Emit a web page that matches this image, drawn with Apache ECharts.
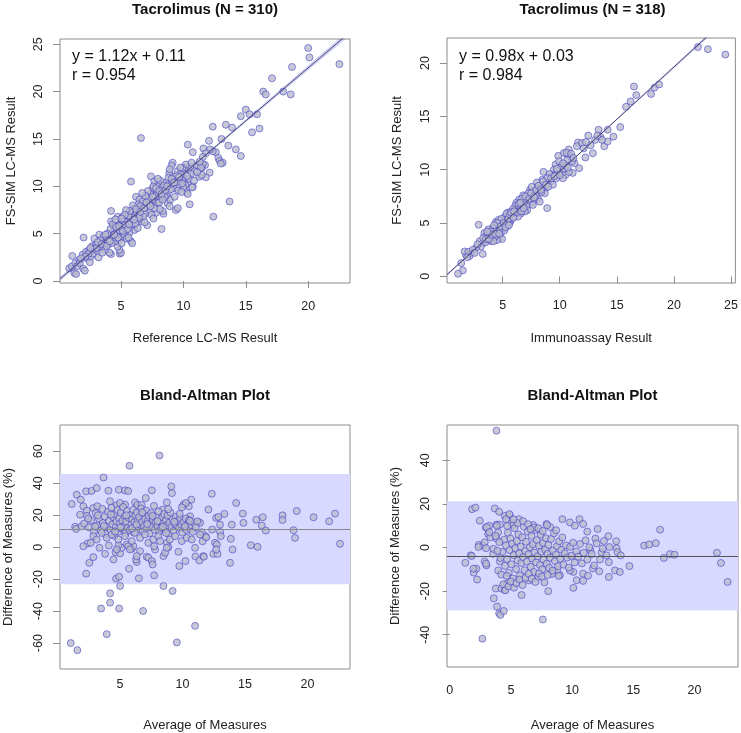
<!DOCTYPE html>
<html><head><meta charset="utf-8">
<script src="https://cdn.jsdelivr.net/npm/echarts@6/dist/echarts.min.js"></script>
<style>html,body{margin:0;padding:0;background:#fff}#c{width:741px;height:733px}</style>
</head><body><div id="c"></div>
<script>
// ---------- DATA ----------
const panelTitles = ['Tacrolimus (N = 310)', 'Tacrolimus (N = 318)', 'Bland-Altman Plot', 'Bland-Altman Plot'];
const xNames = ['Reference LC-MS Result', 'Immunoassay Result', 'Average of Measures', 'Average of Measures'];
const yNames = ['FS-SIM LC-MS Result', 'FS-SIM LC-MS Result', 'Difference of Measures (%)', 'Difference of Measures (%)'];
const xTickValues = [[5, 10, 15, 20], [5, 10, 15, 20, 25], [5, 10, 15, 20], [0, 5, 10, 15, 20]];
const yTickValues = [[0, 5, 10, 15, 20, 25], [0, 5, 10, 15, 20], [-60, -40, -20, 0, 20, 40, 60], [-40, -20, 0, 20, 40]];
const fitSlopes = [1.12, 0.98];
const fitIntercepts = [0.11, 0.03];
const fitR = [0.954, 0.984];
const ciKnotX = [0, 4, 7.5, 12, 18, 26];
const ciHalfLcms = [0.24, 0.11, 0.08, 0.12, 0.22, 0.38];
const ciHalfImmuno = [0.12, 0.05, 0.04, 0.06, 0.11, 0.18];
const baMeanDiff = [11.3, -3.9];
const baUpperLimit = [45.7, 21.2];
const baLowerLimit = [-23.2, -28.9];

// Panel 1: Reference LC-MS (x) vs FS-SIM LC-MS (y)
const lcmsPoints = [
[20.0,24.6],[20.1,23.6],[22.5,22.9],[18.7,22.6],[17.1,21.4],[16.4,20.0],[16.6,19.7],[18.0,20.0],[18.6,19.7],[15.0,18.1],[14.6,17.4],[15.3,17.6],[15.9,17.6],[15.5,15.7],[16.1,16.1],[12.35,16.3],[13.4,16.5],[13.9,16.2],[13.05,15.0],[12.05,14.8],[13.6,14.3],[14.2,13.9],[14.6,13.2],[12.6,13.6],[12.8,13.0],[12.9,12.7],[13.15,12.5],[13.0,12.4],[12.35,13.7],[12.13,13.9],[12.1,11.45],[13.7,8.4],[12.4,6.8],
[10.35,14.4],[10.75,13.6],[11.6,14.0],[11.8,13.5],[11.55,13.1],[11.73,12.25],[11.47,11.9],[11.8,10.95],[11.27,11.0],[11.47,11.2],[11.2,12.1],[11.55,12.35],[10.75,9.95],[10.3,10.3],[10.25,9.4],[10.35,9.2],[10.5,8.1],[10.7,9.9],[11.05,12.2],[11.4,12.0],[10.9,11.6],[10.4,11.8],[10.6,11.3],[10.2,12.0],[10.1,11.3],[10.45,10.8],[10.0,10.7],[10.15,10.1],[10.55,12.1],[10.85,10.6],[11.1,11.5],
[9.14,12.5],[8.87,11.4],[9.54,11.6],[9.94,10.9],[10.2,12.3],[9.4,7.5],[9.55,7.7],[8.74,8.2],[8.74,9.3],[8.87,10.35],[9.27,9.8],[9.0,9.7],[9.2,11.0],[9.35,10.6],[9.6,9.6],[9.7,10.9],[9.8,11.3],[10.0,9.9],[8.6,10.4],[8.8,10.9],[8.95,8.6],[9.05,12.2],[9.45,11.1],[9.65,10.2],[9.85,9.4],[9.9,11.9],[9.1,10.3],[8.6,9.0],[9.3,8.9],[9.75,12.0],[8.9,11.8],[9.55,10.5],
[7.4,11.05],[7.67,10.5],[8.07,10.2],[8.34,9.65],[8.25,5.5],[8.4,7.1],[8.34,7.4],[7.4,9.2],[7.5,8.0],[7.55,9.8],[7.7,8.6],[7.8,7.2],[7.85,9.4],[7.9,8.2],[8.0,9.0],[8.1,7.6],[8.2,8.7],[8.3,9.9],[8.5,8.9],[7.1,5.9],[7.2,8.7],[7.3,7.4],[7.0,7.8],[7.15,9.5],[7.6,10.0],[8.15,10.6],[8.45,10.1],[7.95,10.8],[7.25,8.1],[7.75,9.0],[8.05,8.3],[7.45,7.0],[8.35,8.6],[7.65,7.7],
[6.6,15.1],[5.8,10.5],[6.2,8.9],[6.47,8.6],[6.87,8.2],[6.6,6.3],[6.07,5.4],[6.07,7.7],[5.93,7.2],[5.67,6.8],[5.67,5.1],[5.8,4.2],[5.9,4.0],[5.75,5.8],[5.85,6.5],[6.0,6.0],[6.1,6.8],[6.25,7.3],[6.3,6.4],[6.4,8.1],[6.5,7.0],[6.65,7.6],[6.75,8.4],[6.9,7.1],[6.95,9.0],[6.35,5.6],[6.55,7.9],[6.8,6.8],[5.6,6.9],[5.5,6.2],[6.15,6.1],[5.95,8.0],[6.7,9.3],[6.45,6.7],[5.7,7.4],
[4.2,2.85],[4.9,2.9],[5.0,3.0],[4.87,3.3],[4.73,3.66],[4.2,6.3],[4.2,7.4],[4.3,5.1],[4.4,4.5],[4.47,5.8],[4.5,5.4],[4.6,4.2],[4.73,6.8],[4.8,5.0],[4.87,4.4],[4.95,6.0],[5.0,5.5],[5.1,6.4],[5.13,4.7],[5.13,6.8],[5.2,5.9],[5.3,4.9],[5.4,5.4],[5.4,7.5],[4.07,3.0],[4.07,4.7],[4.0,3.9],[4.15,5.5],[4.35,6.0],[4.55,6.5],[4.65,5.1],[4.9,5.4],[5.05,4.0],[5.25,6.3],[5.35,5.9],[5.45,4.5],[4.75,4.6],[5.15,5.3],[4.45,4.9],[5.3,7.0],[4.25,4.0],
[0.85,1.35],[1.1,2.65],[1.26,0.85],[1.4,0.75],[1.07,1.55],[1.34,1.9],[1.5,1.6],[1.66,2.25],[1.7,1.9],[1.93,2.8],[1.98,1.3],[2.0,4.6],[2.1,1.1],[2.2,3.1],[2.3,2.4],[2.46,3.3],[2.5,2.0],[2.6,2.6],[2.7,3.7],[2.75,2.9],[2.86,4.5],[3.0,3.8],[3.1,3.2],[3.2,2.5],[3.26,4.9],[3.4,3.6],[3.53,4.0],[3.6,4.7],[3.7,3.3],[3.8,4.4],[3.9,5.0],[2.4,2.9],[2.9,3.4],[3.35,4.3],[3.75,4.9],[2.15,2.6],[1.8,2.4],[3.05,3.5],[3.5,3.0],[3.65,4.0],[2.55,3.5],[3.95,4.3],
[3.15,4.1],[3.45,3.9],[3.85,3.7],[4.1,4.2],[4.6,5.7],[4.85,5.8],[5.05,6.6],[5.55,5.5],[5.65,6.0],[6.05,6.5],[6.2,7.6],[6.55,7.3],[6.85,7.7],[7.05,8.3],[7.35,7.9],[7.55,8.9],[7.8,9.8],[8.05,9.5],[8.25,9.2],[8.55,9.6],[8.7,10.0],[9.05,10.8],[9.25,10.4],[9.65,11.0],[9.9,10.3],[10.3,11.1],[10.65,12.5],[11.3,12.6],[5.6,4.6],[6.9,6.2],[7.6,6.6],[8.9,7.9]
];

// Panel 2: Immunoassay (x) vs FS-SIM LC-MS (y)
const immunoPoints = [
[22.1,21.5],[22.97,21.3],[24.5,20.8],[18.3,17.7],[18.7,18.0],[18.0,17.1],[16.5,17.8],[16.7,17.0],[16.2,16.4],[15.8,15.9],[15.3,14.0],[14.7,13.1],[14.2,13.75],[13.4,13.75],[13.9,12.2],[14.2,12.65],[13.55,13.1],[13.7,12.8],[12.5,13.2],[13.1,12.8],[12.9,11.55],[12.25,11.15],[11.6,12.55],[11.5,12.2],[11.95,12.5],[12.1,12.0],[11.7,10.15],[11.3,10.6],[12.7,12.3],[13.3,13.2],[12.3,12.6],
[10.8,11.9],[10.36,11.56],[10.74,11.4],[10.94,11.25],[11.09,10.8],[10.65,10.9],[11.14,9.7],[10.2,9.7],[10.5,9.5],[10.8,9.8],[10.28,9.2],[9.87,11.3],[9.64,10.5],[9.5,10.0],[9.3,9.5],[9.2,8.9],[10.6,11.6],[11.0,11.5],[10.1,10.3],[9.8,9.9],[10.4,10.1],[9.1,9.6],[9.95,10.8],[10.55,10.4],[11.2,11.1],[9.4,8.6],[9.7,9.2],
[8.9,6.4],[8.77,8.3],[8.57,9.8],[8.33,8.6],[8.48,9.06],[8.04,7.8],[7.6,7.56],[7.46,6.9],[7.03,7.2],[7.2,7.5],[6.74,6.56],[6.6,5.9],[6.45,7.2],[6.3,6.7],[6.16,6.3],[8.2,8.2],[8.0,8.8],[7.8,8.0],[7.7,7.1],[7.4,8.1],[7.3,7.0],[7.1,6.6],[6.9,7.0],[6.8,7.6],[6.5,6.4],[6.2,6.9],[6.05,5.8],[8.6,8.5],[8.9,9.2],[8.1,7.3],[7.55,8.4],[7.9,7.6],[7.15,6.2],[6.35,5.6],[6.95,6.1],[8.7,7.8],[8.4,7.9],[7.65,6.7],[6.7,7.3],[7.25,7.8],[8.25,7.0],[6.1,6.6],
[5.87,5.9],[5.58,5.6],[5.3,5.3],[5.14,4.84],[5.0,4.4],[4.85,4.06],[4.7,3.6],[4.57,4.7],[4.28,4.4],[4.13,3.75],[3.84,4.06],[3.7,3.4],[3.26,3.1],[3.4,4.06],[2.9,4.84],[3.26,2.1],[5.9,6.3],[5.7,5.2],[5.5,6.0],[5.4,4.7],[5.2,5.6],[5.05,5.2],[4.95,3.5],[4.8,4.9],[4.6,4.1],[4.5,3.4],[4.4,5.1],[4.3,3.7],[4.1,4.5],[4.0,3.3],[3.9,3.7],[3.6,3.8],[3.5,3.2],[3.1,2.8],[3.0,3.3],[4.65,5.3],[5.6,5.0],[4.9,5.4],[5.35,5.9],[4.45,4.3],[3.75,4.4],[5.8,5.6],[5.15,4.3],[4.75,4.4],[4.2,3.3],[5.45,5.1],
[2.68,2.66],[2.25,2.2],[2.1,1.9],[1.8,2.0],[1.67,2.34],[1.38,1.25],[1.52,0.56],[1.1,0.25],[2.0,2.3],[2.4,2.5],[2.8,3.0],[1.9,1.8],[2.55,2.2],
[3.3,3.6],[3.55,3.5],[3.8,3.5],[3.95,4.2],[4.05,3.9],[4.35,4.0],[4.55,5.0],[4.7,4.0],[4.85,4.7],[5.1,5.0],[5.25,4.6],[5.5,5.4],[5.65,5.8],[5.75,6.0],[5.95,5.5],[6.25,6.0],[6.4,6.8],[6.55,6.9],[6.65,6.1],[6.85,6.4],[7.0,7.5],[7.35,7.3],[7.5,7.8],[7.75,7.4],[7.95,8.1],[8.15,8.5],[8.35,8.1],[8.55,8.9],[8.8,8.6],[9.0,8.4],[9.25,9.2],[9.55,9.4],[9.75,10.1],[10.0,9.5],[10.3,10.6],[10.7,10.2],[4.25,4.8],[3.65,4.2],[5.55,4.8],[6.0,6.1]
];

// Panel 3: Bland-Altman, reference LC-MS comparison (average, % difference)
const baLcmsPoints = [
[1.05,-60],[1.58,-64.4],[3.93,-54.4],[3.48,-38.4],[4.2,-34.7],[4.2,-28.9],[4.92,-38.4],[5.0,-24.3],[4.68,-19.7],[4.92,-18.5],[6.5,-19.5],[6.84,-39.9],[7.72,-17.6],[8.47,-24.3],[9.2,-27.4],[9.54,-59.6],[11.0,-49.2],[5.72,-13.5],[2.28,-16.6],[2.54,-9.8],[2.86,-6.2],
[2.4,2.3],[2.65,2.7],[2.06,0.6],[3.35,-0.4],[3.8,-4.2],[4.47,-7.7],[4.63,-3.1],[5.0,-3.9],[5.13,-0.4],[4.87,1.2],[4.1,1.0],[5.53,1.7],[5.93,-1.0],[6.07,0.6],[6.33,-9.3],[6.28,-7.7],[6.6,-2.5],[7.13,-6.0],[7.27,-6.6],[7.54,-8.7],[7.6,-10.8],[7.8,-1.5],[7.72,0.6],[8.47,-5.6],[8.6,-3.5],[8.74,2.7],[8.87,0],[9.67,-2.9],[9.74,-11.8],[10.23,-8.7],[11.03,-5.8],[11.35,-8.3],[11.67,-5.6],[11.6,3.7],[11.83,6.9],[11.54,9.3],[11.27,15.6],[4.73,-1.4],[5.66,0.6],[5.79,-1.4],[6.33,-5.6],[8.73,-0.4],[11.0,-0.4],
[10.6,19.3],[10.7,29.7],[10.5,25.5],[10.07,26.6],[10.26,27.6],[9.94,24.9],[9.1,38.0],[9.15,33.8],[8.74,28.0],[8.4,23.5],[8.15,57.3],[5.75,50.9],[3.67,43.6],[4.07,35.3],[2.28,34.9],[2.72,35.2],[3.13,37.0],[4.9,35.9],[5.4,35.5],[5.64,35.1],[1.53,32.8],[1.85,29.7],[1.13,27.0],[1.4,12.7],[1.48,11.4],[1.8,20.3],[2.06,25.5],[1.93,13.1],[2.33,22.8],[5.4,26.6],[6.2,28.0],[7.05,30.7],[7.54,35.5],[4.19,28.7],[4.73,26.2],[4.99,27.6],[6.38,26.4],[6.73,26.4],[2.86,24.5],[3.18,25.6],
[12.34,33.4],[12.07,23.5],[12.37,11.0],[12.69,18.3],[12.87,18.9],[13.0,14.1],[13.0,9.5],[13.06,6.9],[12.6,2.7],[12.74,1.7],[12.47,-4.2],[12.8,-4.2],[12.69,-1.5],[13.35,20.8],[14.29,27.6],[13.94,14.1],[13.86,5.2],[14.0,-1.5],[13.8,-9.8],[14.82,21.0],[14.87,15.2],[15.46,1.2],[16.0,0.2],[15.9,17.2],[16.42,18.7],[16.34,13.5],[16.66,10.4],[18.0,19.9],[18.0,17.0],[18.88,10.6],[19.0,5.8],[19.14,22.6],[20.48,18.7],[21.73,16.2],[22.2,21.0],[22.6,2.1],[11.4,15.2],[11.9,6.2],[11.7,-6.0],
[2.12,14.8],[2.35,19.6],[2.52,12.3],[2.68,16.9],[2.91,9.7],[3.05,21.3],[3.18,13.6],[3.31,17.8],[3.44,10.4],[3.58,23.9],[3.62,15.1],[3.77,19.2],[3.85,8.3],[3.96,12.7],[4.04,22.1],[4.12,16.4],[4.23,10.9],[4.31,24.6],[4.38,14.2],[4.44,18.7],[4.52,7.1],[4.58,20.8],[4.66,12.9],[4.71,16.0],[4.79,23.2],[4.84,9.6],[4.93,18.1],[4.98,14.7],[5.06,21.5],[5.11,11.8],[5.19,16.6],[5.24,25.1],[5.31,13.3],[5.36,19.4],[5.45,8.9],[5.49,15.9],[5.57,22.6],[5.63,12.1],[5.69,18.4],[5.78,10.6],[5.84,20.2],[5.9,14.4],[5.97,17.3],[6.04,23.4],[6.09,9.2],[6.15,15.5],[6.22,19.9],[6.27,12.6],[6.35,21.8],[6.41,16.8],[6.48,11.1],[6.53,18.9],[6.62,13.9],[6.68,24.2],[6.74,15.7],[6.81,10.2],[6.88,20.6],[6.93,13.1],[7.0,17.6],[7.08,22.9],[7.14,11.6],[7.21,16.3],[7.29,19.7],[7.35,8.6],[7.42,14.6],[7.49,21.2],[7.56,12.4],[7.63,17.1],[7.71,25.8],[7.77,10.8],[7.84,15.3],[7.92,19.1],[7.99,13.2],[8.07,22.3],[8.13,9.9],[8.21,16.1],[8.28,12.0],[8.36,18.6],[8.43,14.9],[8.52,20.7],[8.58,11.3],[8.66,16.7],[8.73,13.7],[8.81,19.8],[8.89,8.1],[8.96,15.4],[9.04,21.6],[9.12,12.8],[9.21,17.4],[9.29,10.1],[9.38,14.3],[9.46,19.0],[9.55,13.5],[9.63,16.5],[9.72,11.9],[9.81,18.2],[9.9,14.0],[9.98,9.1],[10.07,15.8],[10.16,12.2],[10.25,17.9],[10.34,10.7],[10.43,14.5],[10.52,16.9],[10.61,11.4],[10.7,13.8],[10.82,9.6],[10.93,15.1],[11.05,12.5],[11.18,16.2],
[2.86,6.9],[3.13,4.8],[3.93,5.8],[4.33,7.9],[4.86,4.8],[5.39,6.9],[5.93,3.8],[6.6,5.8],[6.99,7.9],[7.26,2.7],[7.66,4.8],[8.06,6.9],[8.2,3.8],[8.99,4.8],[9.4,6.9],[9.93,3.8],[10.33,5.8],[10.73,4.8],[11.4,7.9],[3.53,8.9],[6.19,8.9],[8.68,8.9],
[3.22,19.9],[3.7,13.2],[4.27,20.4],[4.6,9.8],[5.02,12.3],[5.5,19.9],[5.95,11.7],[6.3,14.1],[6.77,21.7],[7.17,14.4],[7.6,19.5],[8.0,16.3],[8.42,12.6],[8.85,23.8],[9.33,15.9],[9.77,20.8],[10.2,13.1],[10.6,16.4],[3.0,12.9],[2.45,17.8]
];

// Panel 4: Bland-Altman, immunoassay comparison (average, % difference)
const baImmunoPoints = [
[3.82,53.6],[2.67,-41.8],[7.61,-33.0],[1.28,-7.0],[1.72,-3.6],[1.83,17.6],[2.1,18.3],[2.46,12.3],[1.96,-11.5],[2.18,-9.7],[2.24,-14.7],[2.37,1.2],[2.73,0.9],[2.86,-6.4],[3.0,-8.2],[2.86,2.4],[2.95,9.2],[3.22,10.0],[3.14,6.2],[3.55,-2.9],[3.33,4.7],[3.68,17.9],[4.04,16.4],[3.82,10.5],[4.1,10.5],[3.96,7.0],[3.82,4.2],[4.1,-6.4],[3.96,-10.5],[3.77,-18.8],[3.6,-23.3],[3.87,-27.1],[4.04,-30.2],[4.15,-30.9],[4.42,-29.1],[4.23,-18.8],[4.5,-19.5],[4.69,-16.5],[4.5,14.5],[4.9,14.8],[5.05,11.2],[5.18,10.3],[5.65,13.0],[5.87,-21.8],[8.05,-20.0],[7.91,10.8],[6.82,10.3],[9.2,13.0],[9.82,11.5],[10.23,10.0],[10.6,13.0],[10.9,10.8],[11.24,7.3],[12.09,8.5],[10.1,-18.5],[10.37,-15.0],[10.9,-15.3],[10.9,-12.0],[10.1,-11.2],[9.82,-10.5],[9.0,-12.7],[8.8,-10.2],[12.22,-10.9],[12.28,-5.5],[12.96,5.2],[13.04,0.2],[13.0,-6.7],[13.0,-13.5],[13.5,-10.5],[13.6,2.9],[13.9,-11.2],[13.64,-0.3],[13.7,-2.1],[13.97,-3.6],[14.68,-8.5],[15.88,0.9],[16.3,1.4],[16.84,2.0],[17.19,8.2],[17.5,-4.8],[18.0,-3.0],[18.36,-3.3],[21.83,-2.4],[22.16,-7.1],[22.7,-15.8],
[2.35,0.2],[2.97,-0.3],[3.57,-0.6],[1.8,-3.9],[1.94,-9.7],[2.97,-7.4],[3.03,9.3],[3.25,7.0],[3.85,10.0],[4.88,15.3],[4.61,13.0],[11.5,-1.2],[11.9,4.1],[12.4,-2.3],[12.6,3.0],[12.8,-3.6],[11.7,-9.6],[12.5,-0.5],[11.3,-12.9],
[4.3,-2.1],[4.45,3.6],[4.52,-8.4],[4.6,0.9],[4.68,-5.3],[4.75,6.8],[4.82,-11.6],[4.9,-1.2],[4.97,4.1],[5.04,-7.7],[5.1,1.8],[5.17,-14.2],[5.23,-3.5],[5.3,8.9],[5.36,-0.3],[5.42,-9.9],[5.49,3.0],[5.55,-5.9],[5.61,6.0],[5.68,-2.7],[5.74,-12.8],[5.8,0.4],[5.86,-7.1],[5.93,4.7],[5.99,-4.4],[6.05,9.6],[6.12,-10.4],[6.18,-1.6],[6.24,2.6],[6.3,-6.5],[6.37,7.3],[6.43,-3.1],[6.49,-15.1],[6.55,0.2],[6.62,-8.9],[6.68,5.3],[6.74,-5.0],[6.8,1.5],[6.87,-11.2],[6.93,-2.3],[6.99,8.1],[7.05,-6.8],[7.12,3.4],[7.18,-4.0],[7.24,-13.5],[7.3,0.8],[7.37,-8.0],[7.43,5.9],[7.49,-1.9],[7.55,-10.0],[7.62,2.1],[7.68,-5.6],[7.74,-16.0],[7.8,-0.9],[7.87,4.3],[7.93,-7.4],[7.99,-2.9],[8.06,1.2],[8.13,-9.3],[8.2,-4.7],[8.28,3.9],[8.36,-12.1],[8.44,-1.4],[8.52,6.5],[8.6,-6.2],[8.68,-3.3],[8.77,0.6],[8.85,-8.6],[8.94,2.9],[9.03,-5.1],[9.12,-1.0],[9.2,4.6],[9.3,-7.9],[9.4,-2.6],[9.5,1.0],[9.6,-4.6],[9.72,-9.2],[9.84,0.3],[9.95,-3.8],[10.08,2.2],[10.2,-6.9],[10.35,-1.8],[10.5,-4.2],[10.65,1.6],[10.8,-7.3],[10.95,-2.4],[11.1,3.3],[11.25,-5.5],[11.4,0.1],[11.6,-3.0],[11.8,-8.2],[12.0,1.9],[3.9,-1.5],[4.05,2.5],[4.15,-4.8],[4.22,-12.4],[3.75,5.3],[4.38,-16.9],[4.55,-19.6],[4.65,-13.0],[4.8,-17.8],[5.0,-15.6],[5.25,-18.4],[5.45,-16.3],[5.7,-14.7],[5.95,-17.2],[6.2,-13.9],[6.45,-12.0],[6.7,-14.3],[7.0,-15.8],[7.3,-11.9],[7.55,-13.3],[8.0,-12.6],[8.4,-10.6],[8.9,-13.0],[5.55,11.2],[6.0,12.1],[6.4,10.7],[6.9,9.2],[7.25,8.8],[7.6,7.6],[8.2,9.4],[8.7,7.9],[5.2,12.9],[4.7,9.9],[6.6,8.4],[7.95,10.3]
];

// ---------- LAYOUT / STYLE ----------
const FONT = '"Liberation Sans", Arial, Helvetica, sans-serif';
const grids = [
  {left: 60, top: 39, width: 290, height: 244},
  {left: 447, top: 38, width: 291, height: 245},
  {left: 60, top: 425, width: 290, height: 245},
  {left: 447, top: 425, width: 291, height: 244}
];
const xRanges = [[0.11, 23.35], [0.13, 25.38], [0.19, 23.4], [-0.22, 23.55]];
const yRanges = [[-0.2, 25.55], [-0.62, 22.35], [-76.2, 76.4], [-54.8, 56.2]];
const titleY = [10, 10, 396, 396];
const xLabelMargin = [17, 16, 9, 17];
const xNameGap = [49, 49, 50, 52];
const yNameGap = [42, 43, 45, 45];
const pointsByPanel = [lcmsPoints, immunoPoints, baLcmsPoints, baImmunoPoints];
const boxColor = '#8c8c8c';

const pointStyle = {color: '#babacd', borderColor: 'rgba(40,40,195,0.9)', borderWidth: 0.7};

const option = {
  animation: false,
  backgroundColor: '#ffffff',
  grid: grids.map(g => Object.assign({show: true, borderColor: boxColor, borderWidth: 1, backgroundColor: 'transparent', containLabel: false}, g)),
  xAxis: grids.map((g, i) => ({
    gridIndex: i, type: 'value', min: xRanges[i][0], max: xRanges[i][1],
    axisLine: {show: false}, splitLine: {show: false},
    axisTick: {show: true, customValues: xTickValues[i], length: 7, lineStyle: {color: boxColor}},
    axisLabel: {customValues: xTickValues[i], margin: xLabelMargin[i], fontSize: 12.5, color: '#222', fontFamily: FONT},
    name: xNames[i], nameLocation: 'middle', nameGap: xNameGap[i],
    nameTextStyle: {fontSize: 13, color: '#222', fontFamily: FONT}
  })),
  yAxis: grids.map((g, i) => ({
    gridIndex: i, type: 'value', min: yRanges[i][0], max: yRanges[i][1],
    axisLine: {show: false}, splitLine: {show: false},
    axisTick: {show: true, customValues: yTickValues[i], length: 7, lineStyle: {color: boxColor}},
    axisLabel: {customValues: yTickValues[i], rotate: 90, margin: 15, fontSize: 12.5, color: '#222', fontFamily: FONT},
    name: yNames[i], nameLocation: 'middle', nameGap: yNameGap[i], nameRotate: 90,
    nameTextStyle: {fontSize: 13, color: '#222', fontFamily: FONT}
  })),
  graphic: [],
  series: []
};

// titles
panelTitles.forEach((t, i) => {
  const g = grids[i];
  option.graphic.push({type: 'text', silent: true, x: g.left + g.width / 2, y: titleY[i],
    style: {text: t, font: 'bold 15px ' + FONT, fill: '#111', align: 'center', verticalAlign: 'middle'}});
});

// scatter panels
pointsByPanel.forEach((pts, i) => {
  const s = {type: 'scatter', xAxisIndex: i, yAxisIndex: i, data: pts, symbol: 'circle', symbolSize: 7,
    itemStyle: pointStyle, silent: true, z: 2};
  if (i >= 2) {
    const k = i - 2;
    s.markArea = {silent: true, itemStyle: {color: '#d9d9ff'}, data: [[{yAxis: baLowerLimit[k]}, {yAxis: baUpperLimit[k]}]]};
    s.markLine = {silent: true, symbol: 'none', label: {show: false}, animation: false,
      lineStyle: {color: k === 0 ? '#8a8a8a' : '#555', width: 1, type: 'solid'}, data: [{yAxis: baMeanDiff[k]}]};
  }
  option.series.push(s);
});

// regression fits with confidence bands
[0, 1].forEach(i => {
  const slope = fitSlopes[i], icpt = fitIntercepts[i];
  const half = i === 0 ? ciHalfLcms : ciHalfImmuno;
  option.series.push({
    type: 'custom', xAxisIndex: i, yAxisIndex: i, data: [[5, 5]], silent: true, z: 3,
    renderItem: (params, api) => {
      const up = ciKnotX.map((x, k) => api.coord([x, slope * x + icpt + half[k]]));
      const lo = ciKnotX.map((x, k) => api.coord([x, slope * x + icpt - half[k]])).reverse();
      const cs = params.coordSys;
      return {type: 'polygon', shape: {points: up.concat(lo)},
        style: {fill: 'rgba(95,95,235,0.30)'},
        clipPath: {type: 'rect', shape: {x: cs.x, y: cs.y, width: cs.width, height: cs.height}}};
    }
  });
  const xr = xRanges[i];
  option.series.push({
    type: 'line', xAxisIndex: i, yAxisIndex: i, showSymbol: false, clip: true, silent: true, z: 4,
    data: [[xr[0], slope * xr[0] + icpt], [xr[1], slope * xr[1] + icpt]],
    lineStyle: {color: '#4a4a6a', width: 1}
  });
  const g = grids[i];
  const eq = 'y = ' + slope.toFixed(2) + 'x + ' + icpt.toFixed(2);
  option.graphic.push({type: 'text', silent: true, x: g.left + 12, y: 57,
    style: {text: eq, font: '16px ' + FONT, fill: '#111', align: 'left', verticalAlign: 'middle'}});
  option.graphic.push({type: 'text', silent: true, x: g.left + 12, y: 76,
    style: {text: 'r = ' + fitR[i].toFixed(3), font: '16px ' + FONT, fill: '#111', align: 'left', verticalAlign: 'middle'}});
});

const chart = echarts.init(document.getElementById('c'), null, {renderer: 'canvas'});
chart.setOption(option);
</script>
</body></html>
